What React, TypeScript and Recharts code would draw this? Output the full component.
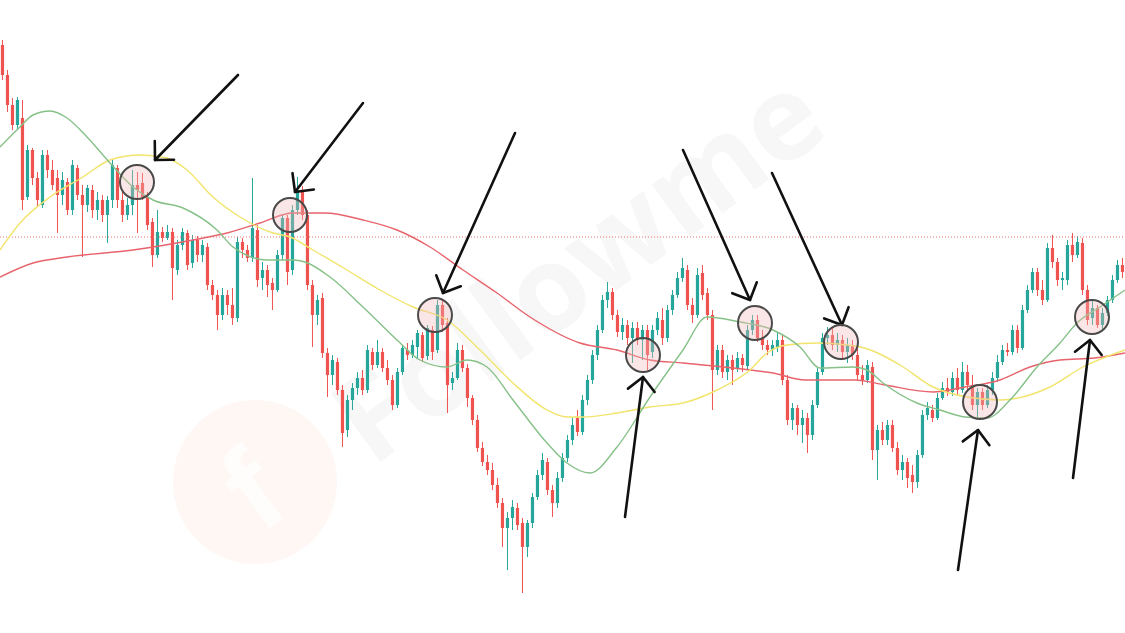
import React from "react";
import {
  Bar,
  ComposedChart,
  Line,
  ReferenceDot,
  ReferenceLine,
  XAxis,
  YAxis,
} from "recharts";

// candles, one row each: [open, high, low, close]
const ohlc: number[][] = [
  [605, 610, 570, 575], [575, 580, 538, 545], [545, 552, 520, 525], [525, 553, 520, 550],
  [532, 550, 440, 450], [453, 505, 450, 500], [500, 502, 465, 472], [472, 478, 443, 450],
  [445, 500, 442, 495], [495, 500, 472, 480], [480, 490, 460, 465], [472, 480, 417, 455],
  [455, 478, 445, 470], [468, 472, 435, 440], [440, 490, 435, 485], [482, 485, 450, 455],
  [455, 465, 393, 445], [445, 465, 438, 462], [460, 465, 432, 440], [440, 458, 430, 450],
  [450, 455, 428, 435], [435, 454, 407, 450], [450, 490, 442, 485], [482, 485, 442, 450],
  [450, 460, 428, 435], [435, 452, 430, 445], [445, 480, 435, 465], [465, 478, 417, 460],
  [467, 477, 450, 453], [453, 458, 420, 425], [428, 432, 383, 395], [395, 440, 392, 418],
  [418, 423, 408, 412], [412, 425, 410, 418], [418, 422, 350, 382], [380, 410, 375, 405],
  [405, 422, 400, 418], [417, 420, 380, 385], [387, 415, 382, 410], [410, 414, 388, 395],
  [395, 410, 388, 405], [403, 407, 360, 365], [365, 370, 350, 355], [355, 360, 320, 335],
  [335, 362, 330, 355], [355, 360, 335, 345], [345, 362, 325, 332], [332, 413, 328, 408],
  [408, 412, 392, 400], [400, 405, 388, 392], [392, 472, 388, 422], [420, 425, 363, 370],
  [372, 388, 360, 380], [380, 385, 353, 365], [367, 372, 340, 360], [360, 400, 358, 395],
  [395, 435, 390, 432], [432, 435, 365, 378], [380, 445, 375, 440], [440, 473, 435, 460],
  [460, 464, 430, 435], [435, 440, 360, 365], [365, 370, 303, 335], [335, 355, 325, 350],
  [352, 357, 292, 297], [297, 302, 253, 275], [275, 295, 265, 290], [288, 292, 255, 260],
  [260, 265, 203, 217], [220, 255, 213, 250], [250, 267, 240, 262], [262, 278, 255, 272],
  [272, 280, 255, 260], [260, 305, 257, 300], [298, 302, 280, 285], [285, 310, 282, 298],
  [298, 302, 278, 282], [282, 290, 265, 270], [270, 275, 240, 245], [245, 282, 242, 278],
  [278, 305, 275, 302], [300, 307, 290, 295], [295, 310, 292, 305], [303, 320, 292, 317],
  [315, 318, 288, 292], [294, 325, 290, 322], [320, 324, 290, 298], [300, 350, 297, 345],
  [345, 350, 318, 325], [327, 332, 237, 265], [267, 278, 260, 272], [272, 307, 270, 300],
  [300, 305, 278, 282], [282, 286, 243, 252], [252, 255, 225, 230], [230, 235, 198, 202],
  [202, 208, 184, 188], [188, 195, 175, 180], [180, 187, 160, 165], [165, 172, 142, 147],
  [147, 152, 103, 122], [122, 138, 80, 132], [132, 150, 120, 143], [142, 147, 120, 125],
  [127, 132, 57, 103], [103, 130, 93, 127], [127, 157, 122, 153], [153, 180, 150, 175],
  [175, 197, 170, 190], [188, 192, 155, 160], [160, 165, 133, 147], [147, 178, 142, 172],
  [172, 197, 168, 192], [192, 215, 188, 210], [210, 232, 205, 225], [232, 240, 214, 218],
  [218, 255, 215, 250], [250, 275, 245, 270], [270, 300, 266, 295], [295, 325, 290, 320],
  [320, 355, 317, 350], [350, 368, 342, 358], [358, 362, 330, 335], [335, 340, 313, 318],
  [318, 332, 310, 325], [325, 330, 305, 312], [312, 328, 287, 322], [322, 328, 305, 310],
  [310, 325, 290, 320], [320, 325, 280, 295], [298, 325, 292, 320], [320, 338, 315, 332],
  [330, 342, 305, 312], [312, 345, 308, 340], [340, 360, 335, 355], [355, 378, 352, 372],
  [372, 392, 368, 382], [380, 385, 340, 345], [345, 352, 327, 335], [335, 382, 332, 375],
  [377, 385, 350, 355], [357, 362, 330, 335], [335, 340, 240, 280], [280, 305, 275, 300],
  [300, 305, 272, 278], [278, 295, 270, 290], [290, 295, 265, 280], [282, 298, 278, 292],
  [292, 296, 278, 285], [284, 325, 280, 320], [320, 335, 315, 330], [330, 335, 308, 312],
  [312, 320, 300, 305], [305, 310, 295, 300], [300, 310, 294, 305], [302, 318, 298, 310],
  [310, 315, 265, 270], [270, 275, 225, 230], [230, 247, 220, 242], [242, 245, 215, 225],
  [225, 240, 207, 232], [232, 237, 197, 215], [215, 250, 210, 245], [245, 282, 242, 278],
  [278, 317, 275, 312], [312, 323, 305, 315], [315, 322, 300, 305], [305, 317, 298, 310],
  [310, 315, 290, 298], [298, 312, 287, 305], [305, 310, 290, 295], [295, 308, 270, 275],
  [275, 285, 265, 270], [270, 290, 267, 285], [283, 288, 190, 200], [200, 225, 170, 220],
  [220, 228, 205, 210], [210, 230, 205, 225], [225, 230, 198, 202], [202, 208, 175, 180],
  [180, 195, 170, 188], [188, 192, 162, 172], [175, 185, 157, 168], [168, 200, 162, 195],
  [195, 240, 192, 235], [235, 248, 230, 242], [240, 245, 228, 232], [232, 257, 230, 252],
  [252, 268, 250, 262], [262, 272, 254, 258], [258, 278, 254, 272], [272, 282, 255, 260],
  [260, 288, 257, 278], [278, 285, 260, 265], [265, 275, 240, 245], [245, 262, 233, 258],
  [258, 262, 240, 245], [245, 265, 242, 260], [260, 278, 255, 272], [272, 295, 268, 288],
  [288, 305, 285, 300], [300, 307, 294, 298], [298, 325, 295, 320], [320, 325, 297, 302],
  [302, 345, 300, 340], [340, 365, 337, 360], [360, 382, 357, 378], [378, 382, 354, 360],
  [360, 370, 345, 350], [350, 407, 348, 402], [402, 415, 382, 388], [388, 392, 364, 370],
  [370, 378, 360, 372], [370, 410, 365, 405], [405, 417, 388, 395], [395, 414, 392, 408],
  [407, 412, 355, 360], [360, 365, 325, 330], [332, 350, 325, 342], [342, 345, 322, 325],
  [325, 342, 320, 337], [337, 354, 334, 350], [350, 375, 347, 370], [370, 390, 367, 385],
  [385, 392, 372, 378],
];

// moving averages as [candle index, value]
const fastMA: number[][] = [
  [-0.5, 503], [3.5, 523], [6.1, 535], [9.5, 539], [12.9, 532], [16.9, 513], [21.5, 487],
  [26.1, 463], [30.1, 450], [36.1, 442], [42.9, 420], [46.1, 403], [52.9, 390], [58.1, 390],
  [60.5, 388], [65.5, 373], [72.1, 343], [78.9, 310], [83.5, 290], [88.9, 283], [92.9, 290],
  [96.9, 283], [102.1, 250], [108.9, 207], [112.9, 187], [117.5, 177], [122.9, 203],
  [129.5, 253], [136.1, 300], [140.9, 333], [147.5, 328], [154.1, 320], [159.5, 303],
  [163.5, 282], [170.1, 283], [172.9, 280], [176.1, 267], [182.9, 247], [187.5, 240],
  [192.5, 233], [196.9, 232], [201.5, 250], [206.9, 283], [211.5, 307], [214.9, 327],
  [219.5, 343], [224.5, 360],
];

const midMA: number[][] = [
  [-0.5, 400], [3.5, 427], [9.5, 453], [16.1, 473], [21.5, 490], [27.5, 495], [32.9, 492],
  [36.9, 480], [42.1, 453], [47.5, 433], [54.1, 417], [57.5, 413], [62.1, 400], [68.9, 380],
  [75.5, 360], [82.1, 343], [88.9, 330], [95.5, 300], [102.1, 267], [108.9, 240],
  [112.9, 233], [116.1, 233], [122.9, 237], [129.5, 243], [136.1, 247], [142.9, 260],
  [149.5, 280], [152.9, 297], [156.9, 305], [162.9, 307], [171.5, 303], [179.5, 285],
  [186.1, 263], [192.9, 253], [199.5, 250], [209.5, 263], [216.1, 283], [224.5, 300],
];

const slowMA: number[][] = [
  [-0.5, 373], [6.1, 387], [12.9, 393], [26.1, 400], [38.1, 410], [44.9, 417], [51.5, 427],
  [58.1, 437], [64.5, 437], [72.1, 430], [78.9, 420], [85.5, 403], [92.1, 380], [98.9, 357],
  [105.5, 333], [115.5, 307], [122.9, 300], [129.5, 290], [136.1, 287], [149.5, 280],
  [154.1, 277], [160.5, 270], [170.5, 270], [176.5, 265], [186.1, 258], [192.5, 263],
  [199.5, 270], [205.5, 283], [211.5, 290], [218.5, 292], [224.5, 297],
];

const lastPrice = 413;

// arrows: [tail index, tail value, head index, head value]
const arrows: number[][] = [
  [47.1, 575, 30.5, 490],
  [72.1, 547, 58.5, 458],
  [102.5, 517, 88.1, 357],
  [136.1, 500, 149.5, 350],
  [153.9, 477, 167.9, 325],
  [124.5, 133, 128.1, 273],
  [191.1, 80, 195.1, 220],
  [214.1, 172, 217.5, 310],
];

const touches: number[][] = [
  [26.9, 468], [57.5, 435], [86.5, 335], [128.1, 295],
  [150.5, 327], [167.7, 308], [195.5, 248], [217.9, 333],
];

const UP = "#26a69a";
const DOWN = "#ef5350";

const candleData = ohlc.map(([open, high, low, close], i) => ({ i, open, high, low, close }));
const toPoints = (rows: number[][]) => rows.map(([i, v]) => ({ i, v }));

function Candle(props: any) {
  const { x, y, width, height, payload } = props;
  const { open, high, low, close } = payload;
  const top = Math.min(y, y + height);
  const span = Math.abs(height);
  const k = span / Math.max(high - low, 1e-6);
  const cx = x + width / 2;
  const bodyTop = top + (high - Math.max(open, close)) * k;
  const bodyBottom = top + (high - Math.min(open, close)) * k;
  const color = close >= open ? UP : DOWN;
  return (
    <g>
      <line x1={cx} x2={cx} y1={top} y2={top + span} stroke={color} strokeWidth={1} />
      <rect
        x={cx - 1.6}
        y={bodyTop}
        width={3.2}
        height={Math.max(bodyBottom - bodyTop, 1)}
        fill={color}
      />
    </g>
  );
}

function Arrow(props: any) {
  const { x1, y1, x2, y2 } = props;
  const ang = Math.atan2(y1 - y2, x1 - x2);
  const len = 19;
  const a = ang + Math.PI / 4;
  const b = ang - Math.PI / 4;
  const arm = `${x2 + len * Math.cos(a)},${y2 + len * Math.sin(a)} ${x2},${y2} ${
    x2 + len * Math.cos(b)
  },${y2 + len * Math.sin(b)}`;
  return (
    <g>
      <line x1={x1} y1={y1} x2={x2} y2={y2} stroke="#111" strokeWidth={2.6} strokeLinecap="round" />
      <polyline points={arm} fill="none" stroke="#111" strokeWidth={2.6} strokeLinecap="round" strokeLinejoin="round" />
    </g>
  );
}

// faint brand watermark behind the plot
function Watermark() {
  return (
    <svg width={1125} height={633} style={{ position: "absolute", left: 0, top: 0 }}>
      <circle cx={255} cy={482} r={82} fill="#fef7f4" />
      <text
        x={228}
        y={528}
        fontFamily="Arial, sans-serif"
        fontWeight={700}
        fontSize={120}
        fill="#ffffff"
        fillOpacity={0.7}
        transform="rotate(-36 255 482)"
      >
        f
      </text>
      <text
        x={372}
        y={468}
        fontFamily="'Open Sans', Arial, sans-serif"
        fontWeight={700}
        fontSize={118}
        fill="#f7f7f7"
        transform="rotate(-36 372 468)"
      >
        Followme
      </text>
    </svg>
  );
}

export default function App() {
  return (
    <div
      style={{
        position: "absolute",
        left: 0,
        top: 0,
        width: 1125,
        height: 633,
        background: "#fff",
        overflow: "hidden",
      }}
    >
      <Watermark />
      <div style={{ position: "absolute", left: 0, top: 0 }}>
        <ComposedChart
          width={1125}
          height={633}
          data={candleData}
          margin={{ top: 0, right: 0, bottom: 0, left: 0 }}
        >
          <XAxis dataKey="i" type="number" domain={[-0.5, 224.5]} hide allowDataOverflow />
          <YAxis type="number" domain={[17, 650]} hide allowDataOverflow />
          <ReferenceLine
            y={lastPrice}
            stroke="#e57373"
            strokeWidth={1}
            strokeDasharray="1 2"
          />
          <Line
            data={toPoints(slowMA)}
            dataKey="v"
            type="monotone"
            stroke="#e8646c"
            strokeWidth={1.4}
            dot={false}
            isAnimationActive={false}
          />
          <Line
            data={toPoints(midMA)}
            dataKey="v"
            type="monotone"
            stroke="#f2e46c"
            strokeWidth={1.4}
            dot={false}
            isAnimationActive={false}
          />
          <Line
            data={toPoints(fastMA)}
            dataKey="v"
            type="monotone"
            stroke="#86c187"
            strokeWidth={1.4}
            dot={false}
            isAnimationActive={false}
          />
          <Bar
            dataKey={(d: any) => [d.low, d.high]}
            barSize={5}
            shape={<Candle />}
            isAnimationActive={false}
          />
          {touches.map(([i, v], n) => (
            <ReferenceDot
              key={`c${n}`}
              x={i}
              y={v}
              r={17}
              fill="#f2b8b8"
              fillOpacity={0.35}
              stroke="#4a4a4a"
              strokeWidth={2}
              ifOverflow="visible"
            />
          ))}
          {arrows.map(([ti, tv, hi, hv], n) => (
            <ReferenceLine
              key={`a${n}`}
              segment={[
                { x: ti, y: tv },
                { x: hi, y: hv },
              ]}
              ifOverflow="visible"
              shape={(p: any) => <Arrow {...p} />}
            />
          ))}
        </ComposedChart>
      </div>
    </div>
  );
}
